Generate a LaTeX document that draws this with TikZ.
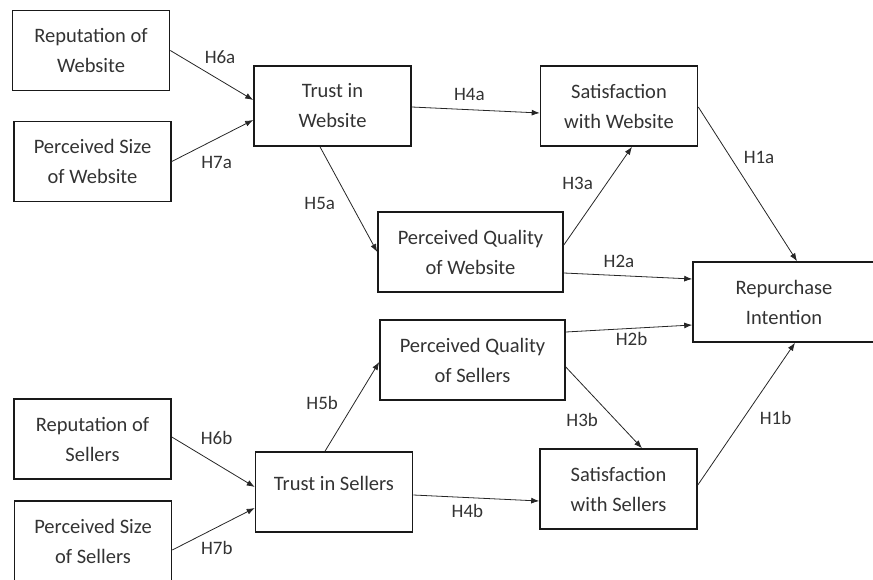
\documentclass[tikz,border=0pt]{standalone}
\usepackage{fontspec}
\setmainfont{Carlito}
\usetikzlibrary{arrows.meta,positioning}
\tikzset{>={Latex[length=8pt,width=6pt]},
box/.style={draw=black!90,line width=1.6pt,minimum width=157pt,minimum height=80pt,
  align=center,inner sep=2pt,text=black!80,font=\fontsize{20.5}{30}\selectfont},
hyp/.style={->,line width=0.8pt,black!85},
lbl/.style={inner sep=2pt,text=black!80,font=\fontsize{19}{22}\selectfont}}

\begin{document}
\begin{tikzpicture}[x=1pt,y=-1pt]
  \useasboundingbox (0,0) rectangle (873,580);
  \node[box] (rw) at (91,50.5) {Reputation of\\Website};
  \node[box] (sw) at (92.5,161.5) {Perceived Size\\of Website};
  \node[box] (tw) at (332.5,106) {Trust in\\Website};
  \node[box] (fw) at (619,106) {Satisfaction\\with Website};
  \node[box,minimum width=185pt] (qw) at (470.5,252) {Perceived Quality\\of Website};
  \node[box,minimum width=182pt] (ri) at (784,302) {Repurchase\\Intention};
  \node[box,minimum width=185pt] (qs) at (472.5,360) {Perceived Quality\\of Sellers};
  \node[box] (rs) at (92.5,439) {Reputation of\\Sellers};
  \node[box] (ts) at (334,492) {Trust in Sellers\\[-12pt]\mbox{}};
  \node[box] (fs) at (618.5,489) {Satisfaction\\with Sellers};
  \node[box,minimum height=81pt] (ss) at (93,541.5) {Perceived Size\\of Sellers};

  \draw[hyp] (rw.east) -- node[lbl,pos=.6,above=14pt] {H6a} ([yshift=6pt]tw.west);
  \draw[hyp] (sw.east) -- node[lbl,pos=.55,below=15pt] {H7a} ([yshift=-14pt]tw.west);
  \draw[hyp] ([xshift=-12.5pt]tw.south) -- node[lbl,pos=.54,left=13.5pt] {H5a} (qw.west);
  \draw[hyp] ([yshift=-1pt]tw.east) -- node[lbl,pos=.45,above=7pt] {H4a} ([yshift=-7pt]fw.west);
  \draw[hyp] ([yshift=7pt]qw.east) -- node[lbl,pos=.63,left=11.5pt] {H3a} ([xshift=13pt]fw.south);
  \draw[hyp] ([yshift=-1pt]fw.east) -- node[lbl,pos=.33,right=10.5pt] {H1a} ([xshift=13pt]ri.north);
  \draw[hyp] ([yshift=-21pt]qw.east) -- node[lbl,pos=.43,above=5.5pt] {H2a} ([yshift=23pt]ri.west);
  \draw[hyp] ([xshift=-9pt]ts.north) -- node[lbl,pos=.54,left=14pt] {H5b} ([yshift=-2pt]qs.west);
  \draw[hyp] ([yshift=28pt]qs.east) -- node[lbl,pos=.52,below=1.5pt] {H2b} ([yshift=-23pt]ri.west);
  \draw[hyp] ([yshift=-7pt]qs.east) -- node[lbl,pos=.65,left=15pt] {H3b} ([xshift=23.5pt]fs.north);
  \draw[hyp] ([yshift=4pt]fs.east) -- node[lbl,pos=.47,right=14pt] {H1b} ([xshift=11pt]ri.south);
  \draw[hyp] ([yshift=2pt]rs.east) -- node[lbl,pos=.54,above=17pt] {H6b} ([yshift=5pt]ts.west);
  \draw[hyp] ([yshift=-8.5pt]ss.east) -- node[lbl,pos=.54,below=12pt] {H7b} ([yshift=-16pt]ts.west);
  \draw[hyp] ([yshift=-3pt]ts.east) -- node[lbl,pos=.43,below=4pt] {H4b} ([yshift=-12pt]fs.west);
\end{tikzpicture}
\end{document}
